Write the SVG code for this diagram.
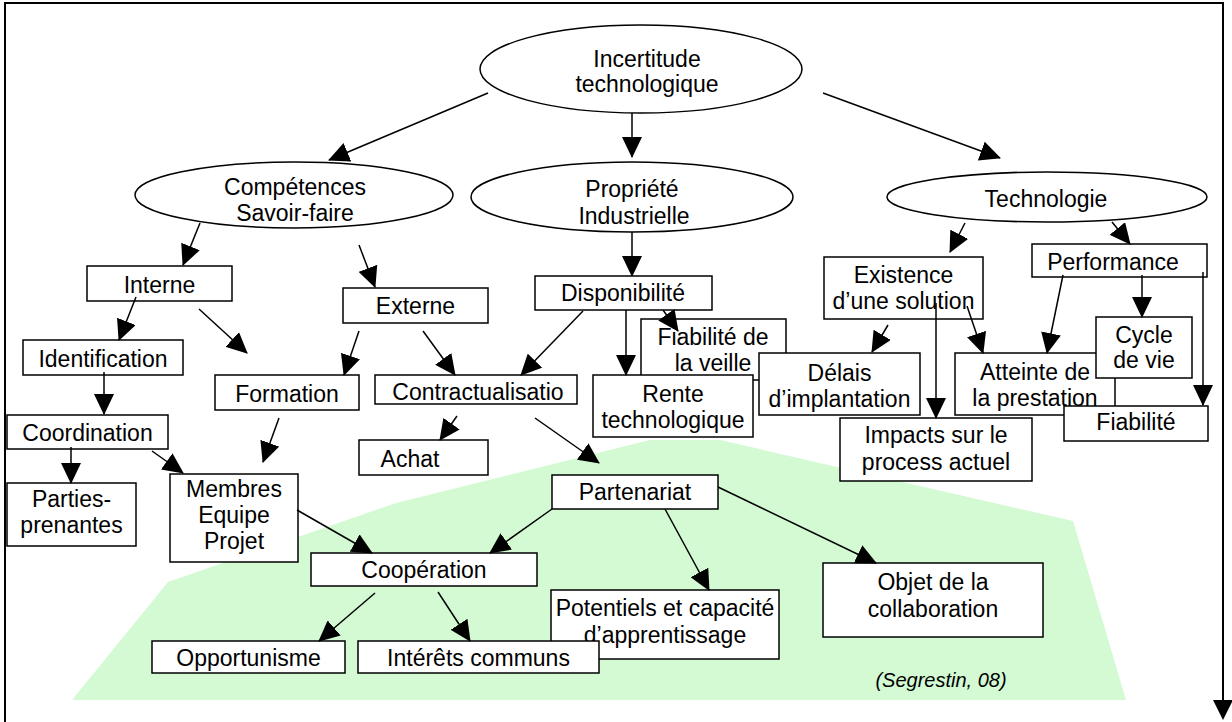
<svg xmlns="http://www.w3.org/2000/svg" width="1232" height="722" viewBox="0 0 1232 722">
<style>
.box{fill:#fff;stroke:#000;stroke-width:1.5}
.ell{fill:#fff;stroke:#000;stroke-width:1.5}
.t{font-family:"Liberation Sans",Arial,sans-serif;font-size:23px;fill:#000;text-anchor:middle}
.c line{stroke:#000;stroke-width:1.5;marker-end:url(#ah)}
.frame{fill:none;stroke:#000;stroke-width:2}
</style>
<defs>
<marker id="ah" markerUnits="userSpaceOnUse" markerWidth="21" markerHeight="20" viewBox="0 0 21 20" refX="20" refY="10" orient="auto">
<path d="M0,0 L21,10 L0,20 Z" fill="#000"/>
</marker>
</defs>
<rect width="1232" height="722" fill="#fff"/>
<polygon id="zone" points="72,700 168,582 396,503 650,440 720,440 1073,521 1126,700" fill="#d3fad3"/>
<g id="frame">
<polyline class="frame" points="5,722 5,3 1223,3 1223,702"/>
<path d="M1213,700 L1233,700 L1223,720 Z" fill="#000"/>
</g>
<g id="n-incertitude"><ellipse class="ell" cx="641" cy="69" rx="161" ry="44"/><text class="t" x="647" y="67">Incertitude</text><text class="t" x="647" y="92">technologique</text></g>
<g id="n-competences"><ellipse class="ell" cx="294" cy="195" rx="159" ry="33"/><text class="t" x="295" y="195">Compétences</text><text class="t" x="295" y="221">Savoir-faire</text></g>
<g id="n-propriete"><ellipse class="ell" cx="632" cy="197" rx="161" ry="35"/><text class="t" x="632" y="197">Propriété</text><text class="t" x="634" y="224">Industrielle</text></g>
<g id="n-technologie"><ellipse class="ell" cx="1047" cy="197" rx="160" ry="25"/><text class="t" x="1046" y="207">Technologie</text></g>
<g id="n-interne"><rect class="box" x="87" y="266" width="145" height="35"/><text class="t" x="159.5" y="293">Interne</text></g>
<g id="n-externe"><rect class="box" x="343" y="288" width="145" height="35"/><text class="t" x="415.5" y="314">Externe</text></g>
<g id="n-identification"><rect class="box" x="23" y="340" width="160" height="35"/><text class="t" x="103" y="367">Identification</text></g>
<g id="n-formation"><rect class="box" x="215" y="375" width="144" height="35"/><text class="t" x="287" y="402">Formation</text></g>
<g id="n-coordination"><rect class="box" x="7" y="415" width="161" height="34"/><text class="t" x="87.5" y="441">Coordination</text></g>
<g id="n-contract"><rect class="box" x="375" y="375" width="202" height="29"/><text class="t" x="478" y="400">Contractualisatio</text></g>
<g id="n-achat"><rect class="box" x="359" y="440" width="129" height="35"/><text class="t" x="410" y="467">Achat</text></g>
<g id="n-membres"><rect class="box" x="170" y="474" width="128" height="88"/><text class="t" x="234" y="497">Membres</text><text class="t" x="234" y="523">Equipe</text><text class="t" x="234" y="549">Projet</text></g>
<g id="n-parties"><rect class="box" x="7" y="483" width="129" height="63"/><text class="t" x="71.5" y="507">Parties-</text><text class="t" x="71.5" y="533">prenantes</text></g>
<g id="n-disponibilite"><rect class="box" x="535" y="276" width="177" height="34"/><text class="t" x="623" y="301">Disponibilité</text></g>
<g id="n-fiabveille"><rect class="box" x="641" y="319" width="145" height="61"/><text class="t" x="713" y="345">Fiabilité de</text><text class="t" x="713" y="371">la veille</text></g>
<g id="n-rente"><rect class="box" x="593" y="375" width="160" height="62"/><text class="t" x="673" y="402">Rente</text><text class="t" x="673" y="428">technologique</text></g>
<g id="n-delais"><rect class="box" x="759" y="353" width="161" height="62"/><text class="t" x="839.5" y="381">Délais</text><text class="t" x="839.5" y="407">d’implantation</text></g>
<g id="n-existence"><rect class="box" x="824" y="257" width="159" height="62"/><text class="t" x="903.5" y="283">Existence</text><text class="t" x="903.5" y="309">d’une solution</text></g>
<g id="n-performance"><rect class="box" x="1032" y="244" width="175" height="33"/><text class="t" x="1113" y="270">Performance</text></g>
<g id="n-atteinte"><rect class="box" x="955" y="353" width="160" height="62"/><text class="t" x="1035" y="380">Atteinte de</text><text class="t" x="1035" y="406">la prestation</text></g>
<g id="n-fiabilite"><rect class="box" x="1064" y="406" width="144" height="35"/><text class="t" x="1136" y="430">Fiabilité</text></g>
<g id="n-cycle"><rect class="box" x="1096" y="317" width="96" height="61"/><text class="t" x="1144" y="343">Cycle</text><text class="t" x="1144" y="368">de vie</text></g>
<g id="n-impacts"><rect class="box" x="840" y="418" width="192" height="63"/><text class="t" x="936" y="443">Impacts sur le</text><text class="t" x="936" y="470">process actuel</text></g>
<g id="n-partenariat"><rect class="box" x="552" y="475" width="166" height="34"/><text class="t" x="635" y="500">Partenariat</text></g>
<g id="n-cooperation"><rect class="box" x="311" y="553" width="226" height="33"/><text class="t" x="424" y="578">Coopération</text></g>
<g id="n-potentiels"><rect class="box" x="551" y="590" width="228" height="69"/><text class="t" x="665" y="616">Potentiels et capacité</text><text class="t" x="665" y="643">d’apprentissage</text></g>
<g id="n-objet"><rect class="box" x="823" y="563" width="220" height="74"/><text class="t" x="933" y="590">Objet de la</text><text class="t" x="933" y="617">collaboration</text></g>
<g id="n-opportunisme"><rect class="box" x="152" y="641" width="193" height="32"/><text class="t" x="248.5" y="666">Opportunisme</text></g>
<g id="n-interets"><rect class="box" x="358" y="641" width="241" height="32"/><text class="t" x="478.5" y="666">Intérêts communs</text></g>
<text x="941" y="687" style="font-family:'Liberation Sans',Arial,sans-serif;font-size:20px;font-style:italic;text-anchor:middle">(Segrestin, 08)</text>
<g id="connectors" class="c">
<line x1="488" y1="93" x2="329" y2="160"/>
<line x1="632" y1="113" x2="632" y2="157"/>
<line x1="823" y1="93" x2="1000" y2="158"/>
<line x1="200" y1="223" x2="183" y2="265"/>
<line x1="359" y1="245" x2="375" y2="287"/>
<line x1="136" y1="297" x2="119" y2="340"/>
<line x1="199" y1="309" x2="247" y2="353"/>
<line x1="359" y1="331" x2="344" y2="375"/>
<line x1="104" y1="372" x2="104" y2="414"/>
<line x1="71" y1="447" x2="71" y2="483"/>
<line x1="152" y1="451" x2="183" y2="473"/>
<line x1="279" y1="418" x2="263" y2="462"/>
<line x1="423" y1="331" x2="455" y2="375"/>
<line x1="583" y1="311" x2="521" y2="375"/>
<line x1="626" y1="310" x2="626" y2="375"/>
<line x1="663" y1="310" x2="678" y2="331"/>
<line x1="632" y1="232" x2="632" y2="276"/>
<line x1="457" y1="416" x2="440" y2="440"/>
<line x1="535" y1="418" x2="599" y2="463"/>
<line x1="965" y1="223" x2="950" y2="252"/>
<line x1="1112" y1="222" x2="1130" y2="244"/>
<line x1="888" y1="325" x2="872" y2="352"/>
<line x1="936" y1="303" x2="936" y2="418"/>
<line x1="967" y1="306" x2="983" y2="353"/>
<line x1="1063" y1="275" x2="1047" y2="353"/>
<line x1="1142" y1="275" x2="1142" y2="317"/>
<line x1="1203" y1="272" x2="1203" y2="405"/>
<line x1="297" y1="510" x2="372" y2="553"/>
<line x1="552" y1="509" x2="490" y2="553"/>
<line x1="665" y1="509" x2="709" y2="590"/>
<line x1="718" y1="487" x2="876" y2="563"/>
<line x1="375" y1="593" x2="319" y2="641"/>
<line x1="438" y1="592" x2="470" y2="641"/>
</g>
</svg>
